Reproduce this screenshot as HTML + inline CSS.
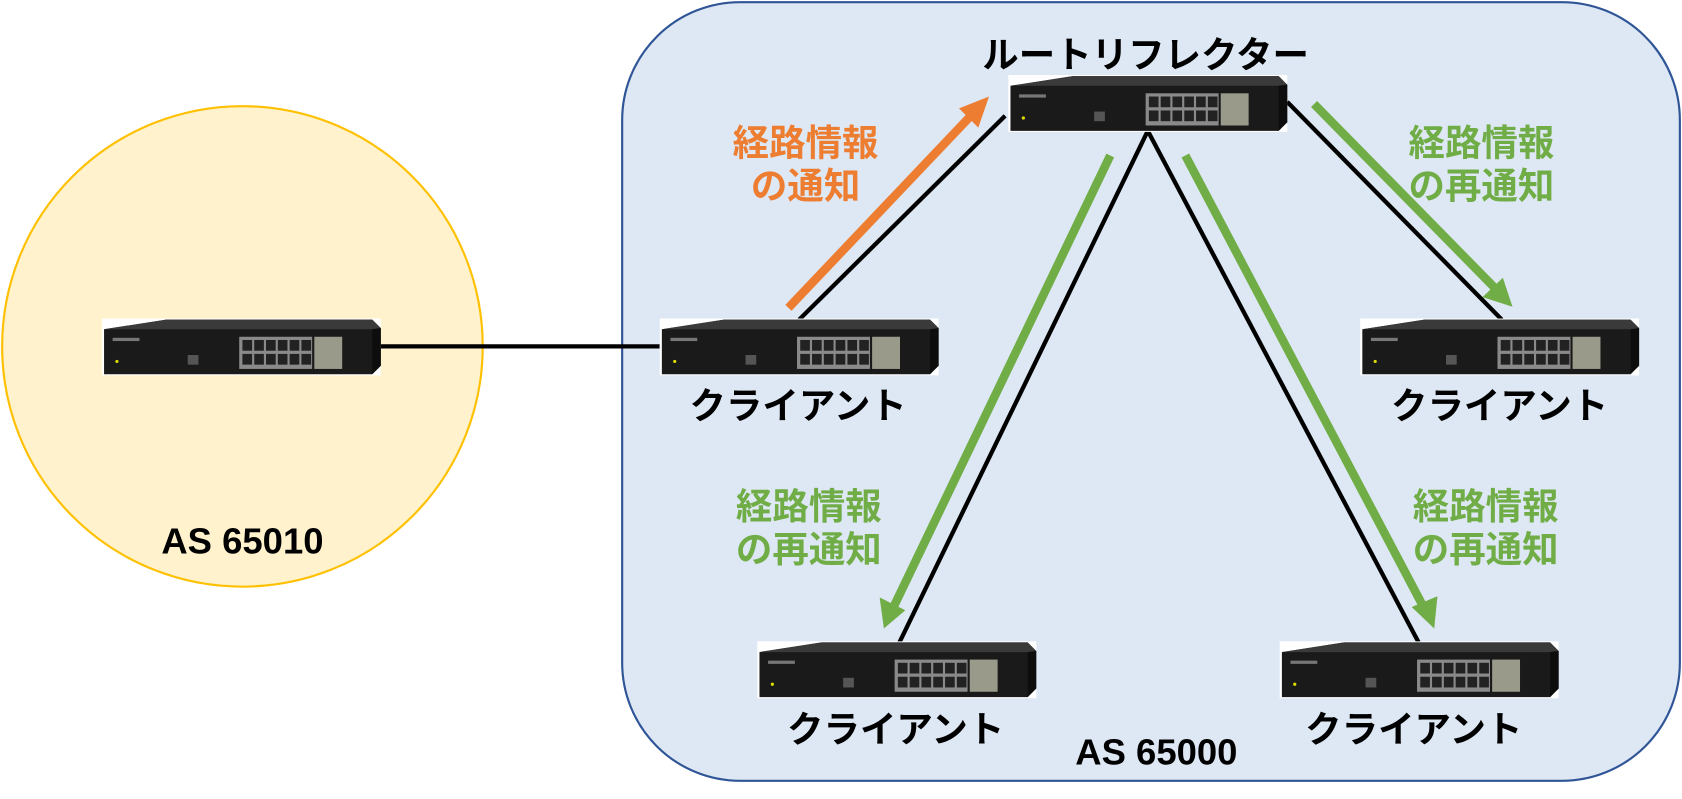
<!DOCTYPE html>
<html><head><meta charset="utf-8"><style>
body{margin:0;width:1682px;height:799px;background:#fff;overflow:hidden}
svg{display:block}
text{font-family:"Liberation Sans","Noto Sans CJK JP",sans-serif;font-weight:bold}
</style></head><body>
<svg width="1682" height="799" viewBox="0 0 1568 745" preserveAspectRatio="none">
<defs>
<g id="sw">
<rect x="0" y="0" width="260" height="53" fill="#fff"/>
<polygon points="2,10 60,1 252,1 260,9 260,44 252,52 2,52" fill="#1a1a1a"/>
<polygon points="2,10 60,1 252,1 260,9 252,10" fill="#3a3a3a"/>
<polygon points="252,10 260,9 260,44 252,52" fill="#0d0d0d"/>
<rect x="128" y="17" width="68" height="30" fill="#8a8a8a"/>
<g fill="#222">
<rect x="131" y="20" width="9" height="10"/><rect x="142" y="20" width="9" height="10"/><rect x="153" y="20" width="9" height="10"/><rect x="164" y="20" width="9" height="10"/><rect x="175" y="20" width="9" height="10"/><rect x="186" y="20" width="9" height="10"/>
<rect x="131" y="33" width="9" height="10"/><rect x="142" y="33" width="9" height="10"/><rect x="153" y="33" width="9" height="10"/><rect x="164" y="33" width="9" height="10"/><rect x="175" y="33" width="9" height="10"/><rect x="186" y="33" width="9" height="10"/>
</g>
<rect x="198" y="17" width="26" height="30" fill="#9a9a8a"/>
<rect x="80" y="34" width="10" height="9" fill="#555"/>
<rect x="10" y="18" width="25" height="3" fill="#777"/>
<circle cx="14" cy="40" r="1.5" fill="#dd0"/>
</g>
</defs>
<circle cx="226" cy="323" r="224" fill="#fff2cc" stroke="#ffc000" stroke-width="2"/>
<rect x="580" y="2" width="986" height="726" rx="110" fill="#dee8f4" stroke="#2f5597" stroke-width="2"/>
<g stroke="#000" stroke-width="4">
<line x1="355" y1="323" x2="615" y2="323"/>
<line x1="745" y1="298" x2="937" y2="108"/>
<line x1="1200" y1="95" x2="1400" y2="298"/>
<line x1="1070" y1="122" x2="838" y2="600"/>
<line x1="1070" y1="122" x2="1323" y2="600"/>
</g>
<use href="#sw" x="95" y="297"/>
<use href="#sw" x="615" y="297"/>
<use href="#sw" x="940" y="70"/>
<use href="#sw" x="1268" y="297"/>
<use href="#sw" x="706" y="598"/>
<use href="#sw" x="1193" y="598"/>
<g stroke-width="8" fill="none">
<line x1="735" y1="287" x2="905" y2="108" stroke="#ed7d31"/>
<line x1="1225" y1="97" x2="1395" y2="270" stroke="#70ad47"/>
<line x1="1035" y1="145" x2="833" y2="566" stroke="#70ad47"/>
<line x1="1105" y1="145" x2="1327" y2="566" stroke="#70ad47"/>
</g>
<polygon points="922,90 912,119 894,101" fill="#ed7d31"/>
<polygon points="1410,286 1382,277 1401,259" fill="#70ad47"/>
<polygon points="824,586 820,557 844,569" fill="#70ad47"/>
<polygon points="1337,586 1316,566 1340,556" fill="#70ad47"/>
<g font-size="34" text-anchor="middle">
<text x="1068" y="63" fill="#000">ルートリフレクター</text>
<text x="744" y="390" fill="#000">クライアント</text>
<text x="1398" y="390" fill="#000">クライアント</text>
<text x="835" y="692" fill="#000">クライアント</text>
<text x="1318" y="692" fill="#000">クライアント</text>
<text x="226" y="516" fill="#000">AS 65010</text>
<text x="1078" y="713" fill="#000">AS 65000</text>
<text x="751" y="145" fill="#ed7d31">経路情報</text>
<text x="751" y="185" fill="#ed7d31">の通知</text>
<text x="1381" y="145" fill="#70ad47">経路情報</text>
<text x="1381" y="185" fill="#70ad47">の再通知</text>
<text x="754" y="484" fill="#70ad47">経路情報</text>
<text x="754" y="524" fill="#70ad47">の再通知</text>
<text x="1385" y="484" fill="#70ad47">経路情報</text>
<text x="1385" y="524" fill="#70ad47">の再通知</text>
</g>
</svg>
</body></html>
